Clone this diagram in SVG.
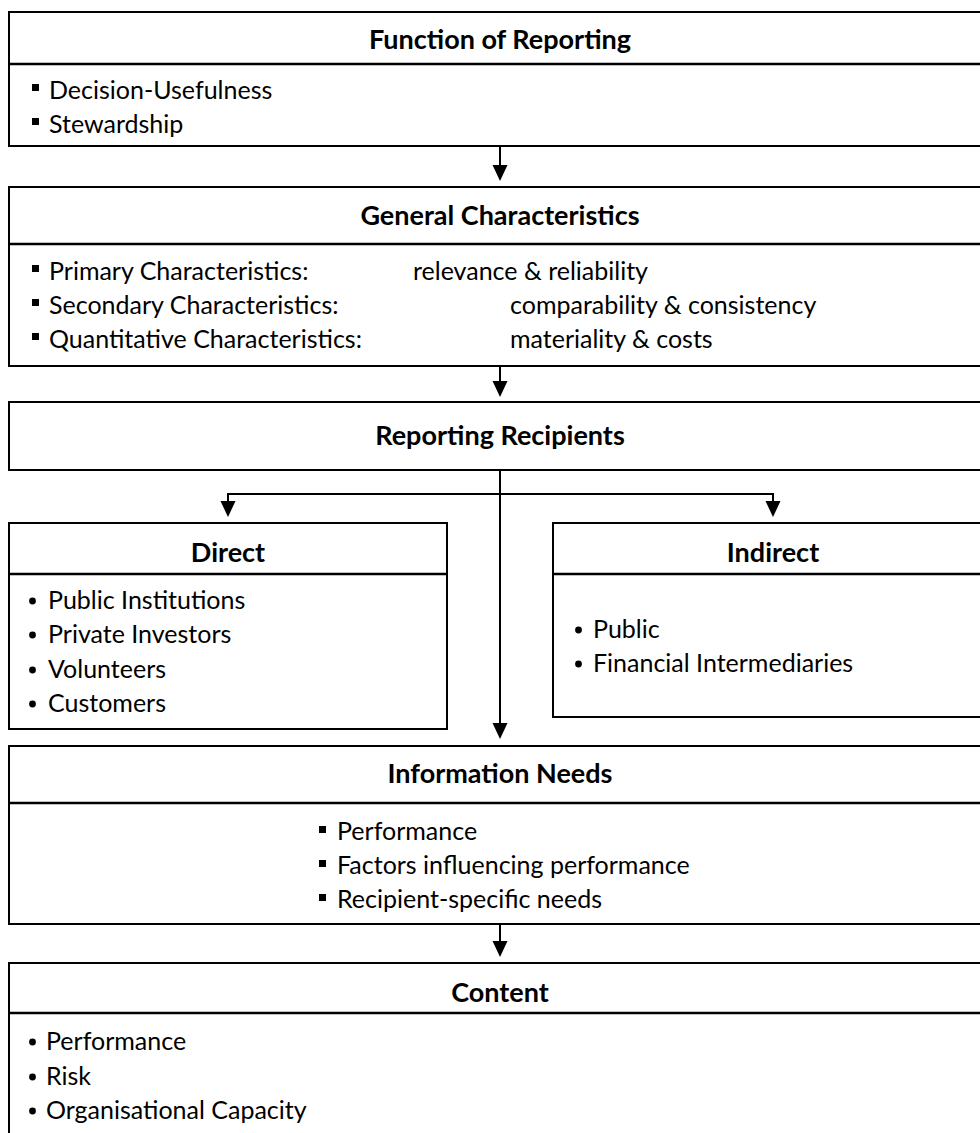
<svg xmlns="http://www.w3.org/2000/svg" width="980" height="1133" viewBox="0 0 980 1133">
<style>
.box{fill:#fff;stroke:#000;stroke-width:2}
.div{stroke:#000;stroke-width:2.5}
.title{font-family:Lato,"Liberation Sans",sans-serif;font-weight:bold;font-size:27px;text-anchor:middle;fill:#000}
.item{font-family:Lato,"Liberation Sans",sans-serif;font-size:25px;fill:#000}
.sq{fill:#000}
.dot{fill:#000}
.con{fill:none;stroke:#000;stroke-width:2}
</style>
<defs>
<marker id="ah" markerUnits="userSpaceOnUse" markerWidth="16" markerHeight="16" viewBox="0 0 16 16" refX="8" refY="8" orient="auto">
<path d="M0,0.5 L16,8 L0,15.5 z" fill="#000"/>
</marker>
</defs>
<rect width="980" height="1133" fill="#fff"/>

<g id="function-of-reporting">
<rect class="box" x="9" y="12" width="982" height="134"/>
<line class="div" x1="9" y1="64" x2="991" y2="64"/>
<text class="title" x="500" y="49">Function of Reporting</text>
<rect class="sq" x="32" y="84" width="7" height="7"/>
<text class="item" x="49" y="99">Decision-Usefulness</text>
<rect class="sq" x="32" y="118" width="7" height="7"/>
<text class="item" x="49" y="133">Stewardship</text>
</g>

<g id="general-characteristics">
<rect class="box" x="9" y="187" width="982" height="179"/>
<line class="div" x1="9" y1="244" x2="991" y2="244"/>
<text class="title" x="500" y="225">General Characteristics</text>
<rect class="sq" x="32" y="265" width="7" height="7"/>
<text class="item" x="49" y="280">Primary Characteristics:</text>
<text class="item" x="413" y="280">relevance &amp; reliability</text>
<rect class="sq" x="32" y="299" width="7" height="7"/>
<text class="item" x="49" y="314">Secondary Characteristics:</text>
<text class="item" x="510" y="314">comparability &amp; consistency</text>
<rect class="sq" x="32" y="333" width="7" height="7"/>
<text class="item" x="49" y="348">Quantitative Characteristics:</text>
<text class="item" x="510" y="348">materiality &amp; costs</text>
</g>

<g id="reporting-recipients">
<rect class="box" x="9" y="402" width="982" height="68"/>
<text class="title" x="500" y="445">Reporting Recipients</text>
</g>

<g id="direct">
<rect class="box" x="9" y="523" width="438" height="206"/>
<line class="div" x1="9" y1="574" x2="447" y2="574"/>
<text class="title" x="228" y="562">Direct</text>
<circle class="dot" cx="32.5" cy="601" r="3.4"/>
<text class="item" x="48" y="609">Public Institutions</text>
<circle class="dot" cx="32.5" cy="635" r="3.4"/>
<text class="item" x="48" y="643">Private Investors</text>
<circle class="dot" cx="32.5" cy="670" r="3.4"/>
<text class="item" x="48" y="678">Volunteers</text>
<circle class="dot" cx="32.5" cy="704" r="3.4"/>
<text class="item" x="48" y="712">Customers</text>
</g>

<g id="indirect">
<rect class="box" x="553" y="523" width="440" height="194"/>
<line class="div" x1="553" y1="574" x2="993" y2="574"/>
<text class="title" x="773" y="562">Indirect</text>
<circle class="dot" cx="578.5" cy="630" r="3.4"/>
<text class="item" x="593" y="638">Public</text>
<circle class="dot" cx="578.5" cy="664" r="3.4"/>
<text class="item" x="593" y="672">Financial Intermediaries</text>
</g>

<g id="information-needs">
<rect class="box" x="9" y="746" width="982" height="178"/>
<line class="div" x1="9" y1="803" x2="991" y2="803"/>
<text class="title" x="500" y="783">Information Needs</text>
<rect class="sq" x="319" y="826" width="7" height="7"/>
<text class="item" x="337" y="840">Performance</text>
<rect class="sq" x="319" y="860" width="7" height="7"/>
<text class="item" x="337" y="874">Factors influencing performance</text>
<rect class="sq" x="319" y="894" width="7" height="7"/>
<text class="item" x="337" y="908">Recipient-specific needs</text>
</g>

<g id="content">
<rect class="box" x="9" y="963" width="982" height="200"/>
<line class="div" x1="9" y1="1013" x2="991" y2="1013"/>
<text class="title" x="500" y="1002">Content</text>
<circle class="dot" cx="32.5" cy="1042" r="3.4"/>
<text class="item" x="46" y="1050">Performance</text>
<circle class="dot" cx="32.5" cy="1077" r="3.4"/>
<text class="item" x="46" y="1085">Risk</text>
<circle class="dot" cx="32.5" cy="1111" r="3.4"/>
<text class="item" x="46" y="1119">Organisational Capacity</text>
</g>

<g id="connectors">
<path class="con" d="M500,147 V173" marker-end="url(#ah)"/>
<path class="con" d="M500,367 V389" marker-end="url(#ah)"/>
<path class="con" d="M500,470 V731" marker-end="url(#ah)"/>
<path class="con" d="M500,494 H228 V509" marker-end="url(#ah)"/>
<path class="con" d="M500,494 H773 V509" marker-end="url(#ah)"/>
<path class="con" d="M500,925 V949" marker-end="url(#ah)"/>
</g>
</svg>
